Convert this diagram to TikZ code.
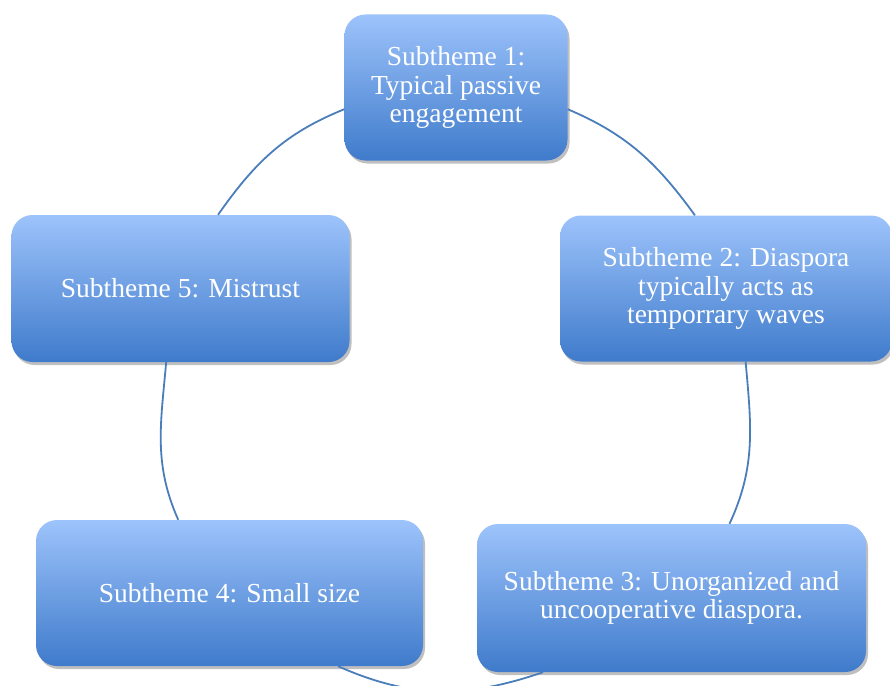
\documentclass[tikz,border=0pt]{standalone}
\usepackage{fontspec}
\setmainfont{Liberation Serif}
\usetikzlibrary{shadows}
\definecolor{boxtop}{HTML}{9DC3FB}
\definecolor{boxbot}{HTML}{3F7BCB}
\definecolor{ringblue}{HTML}{4A7EBB}

\begin{document}
\begin{tikzpicture}[x=1pt,y=1pt,
    theme/.style={rounded corners=21pt, top color=boxtop, bottom color=boxbot,
        text=white, align=center, inner sep=0pt, minimum height=146pt,
        font=\fontsize{27.5}{28.5}\selectfont,
        drop shadow={shadow xshift=2pt, shadow yshift=-3pt, opacity=0.25, fill=black}},
    ring/.style={ringblue, line width=1.8pt}
    ]
\useasboundingbox (0,0) rectangle (890,-685);
% the five subthemes
\node[theme, minimum width=223pt] (s1) at (456,-87.5) {Subtheme 1:\\Typical passive\\engagement};
\node[theme, minimum width=332pt] (s2) at (726,-288.5) {Subtheme 2: Diaspora\\typically acts as\\temporrary waves};
\node[theme, minimum width=389pt, minimum height=148pt] (s3) at (671.5,-598) {Subtheme 3: Unorganized and\\uncooperative diaspora.};
\node[theme, minimum width=387pt] (s4) at (229.5,-593) {Subtheme 4: Small size};
\node[theme, minimum width=338pt, minimum height=147pt] (s5) at (180.5,-288.5) {Subtheme 5: Mistrust};
% arcs of the cycle
\foreach \a/\sa/\b/\eb/\outa/\ina in {1/-11.4/2/113.2/-23/126, 2/-75.5/3/52.6/-85/65,
    3/210.7/4/-34.2/199/-24, 4/125.7/5/259.6/114/265, 5/63.6/1/191.5/55/202}
    \draw[ring] (s\a.\sa) to[out=\outa,in=\ina] (s\b.\eb);
\end{tikzpicture}
\end{document}
